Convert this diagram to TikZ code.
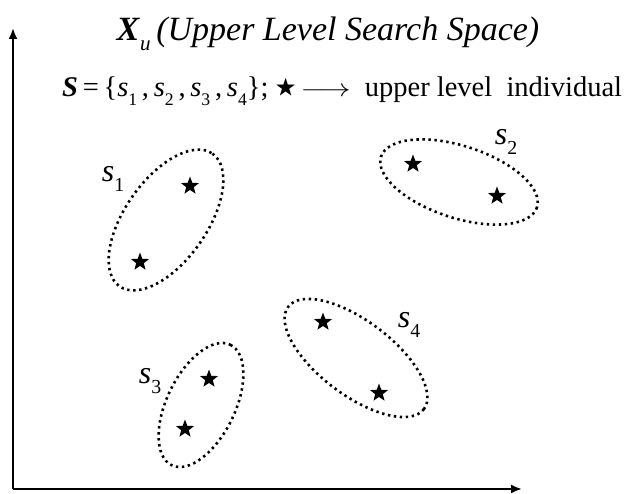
\documentclass[tikz,border=0pt]{standalone}
\usepackage{amssymb}
\usepackage{fontspec}
\setmainfont{Liberation Serif}
\usetikzlibrary{arrows.meta,shapes.geometric}
\newcommand\lowsub[1]{\raisebox{-0.3em}{\fontsize{0.62em}{0.7em}\selectfont #1}}
\tikzset{
  axis/.style={line width=2pt,-{Latex[length=11pt,width=9pt]}},
  cluster/.style={draw,line width=2.6pt,dash pattern=on 2.4pt off 3.6pt},
  starpt/.style={star,star points=5,star point ratio=2.4,fill=black,inner sep=0pt,minimum size=19pt},
  slabel/.style={font=\fontsize{32}{36}\selectfont\itshape,inner sep=0pt},
}
\begin{document}
\begin{tikzpicture}[x=1pt,y=-1pt]
\useasboundingbox (0,0) rectangle (629,494);
% axes
\coordinate (o) at (13,489);
\coordinate (ytop) at (13,28);
\coordinate (xend) at (522,489);
\draw[axis] (o) -- (ytop);
\draw[axis] (o) -- (xend);
% title
\node[font=\fontsize{34}{38}\selectfont,inner sep=0pt] (title) at (328,34)
  {\textbf{\textit{X}}\lowsub{\textit{u}}\,\textit{(Upper Level Search Space)}};
\node[font=\fontsize{28.5}{32}\selectfont,inner sep=0pt,anchor=west] (legend) at (62,91)
  {\textbf{\textit{S}}\,=\,\{\textit{s}\lowsub{1}\,,\,\textit{s}\lowsub{2}\,,\,\textit{s}\lowsub{3}\,,\,\textit{s}\lowsub{4}\};\ \raisebox{0.1em}{\scalebox{0.75}{$\bigstar$}}\,\scalebox{1.25}[1]{$\longrightarrow$}\ \ upper level\ \ individual};
% clusters
\draw[cluster] (166,220) ellipse [x radius=81,y radius=41,rotate=55];
\draw[cluster] (459,182) ellipse [x radius=82,y radius=36,rotate=-18];
\draw[cluster] (201,405) ellipse [x radius=67,y radius=34,rotate=64];
\draw[cluster] (356,358) ellipse [x radius=85,y radius=37,rotate=-37];
% stars
\node[starpt] (a1) at (190,186) {};
\node[starpt] (a2) at (140,262) {};
\node[starpt] (b1) at (413,164) {};
\node[starpt] (b2) at (497,196) {};
\node[starpt] (c1) at (209,379) {};
\node[starpt] (c2) at (185,429) {};
\node[starpt] (d1) at (323,322) {};
\node[starpt] (d2) at (379,393) {};
% labels
\node[slabel] (l1) at (113,179) {s\lowsub{\upshape 1}};
\node[slabel] (l2) at (506,142) {s\lowsub{\upshape 2}};
\node[slabel] (l3) at (150,381) {s\lowsub{\upshape 3}};
\node[slabel] (l4) at (409,325) {s\lowsub{\upshape 4}};
\end{tikzpicture}
\end{document}
